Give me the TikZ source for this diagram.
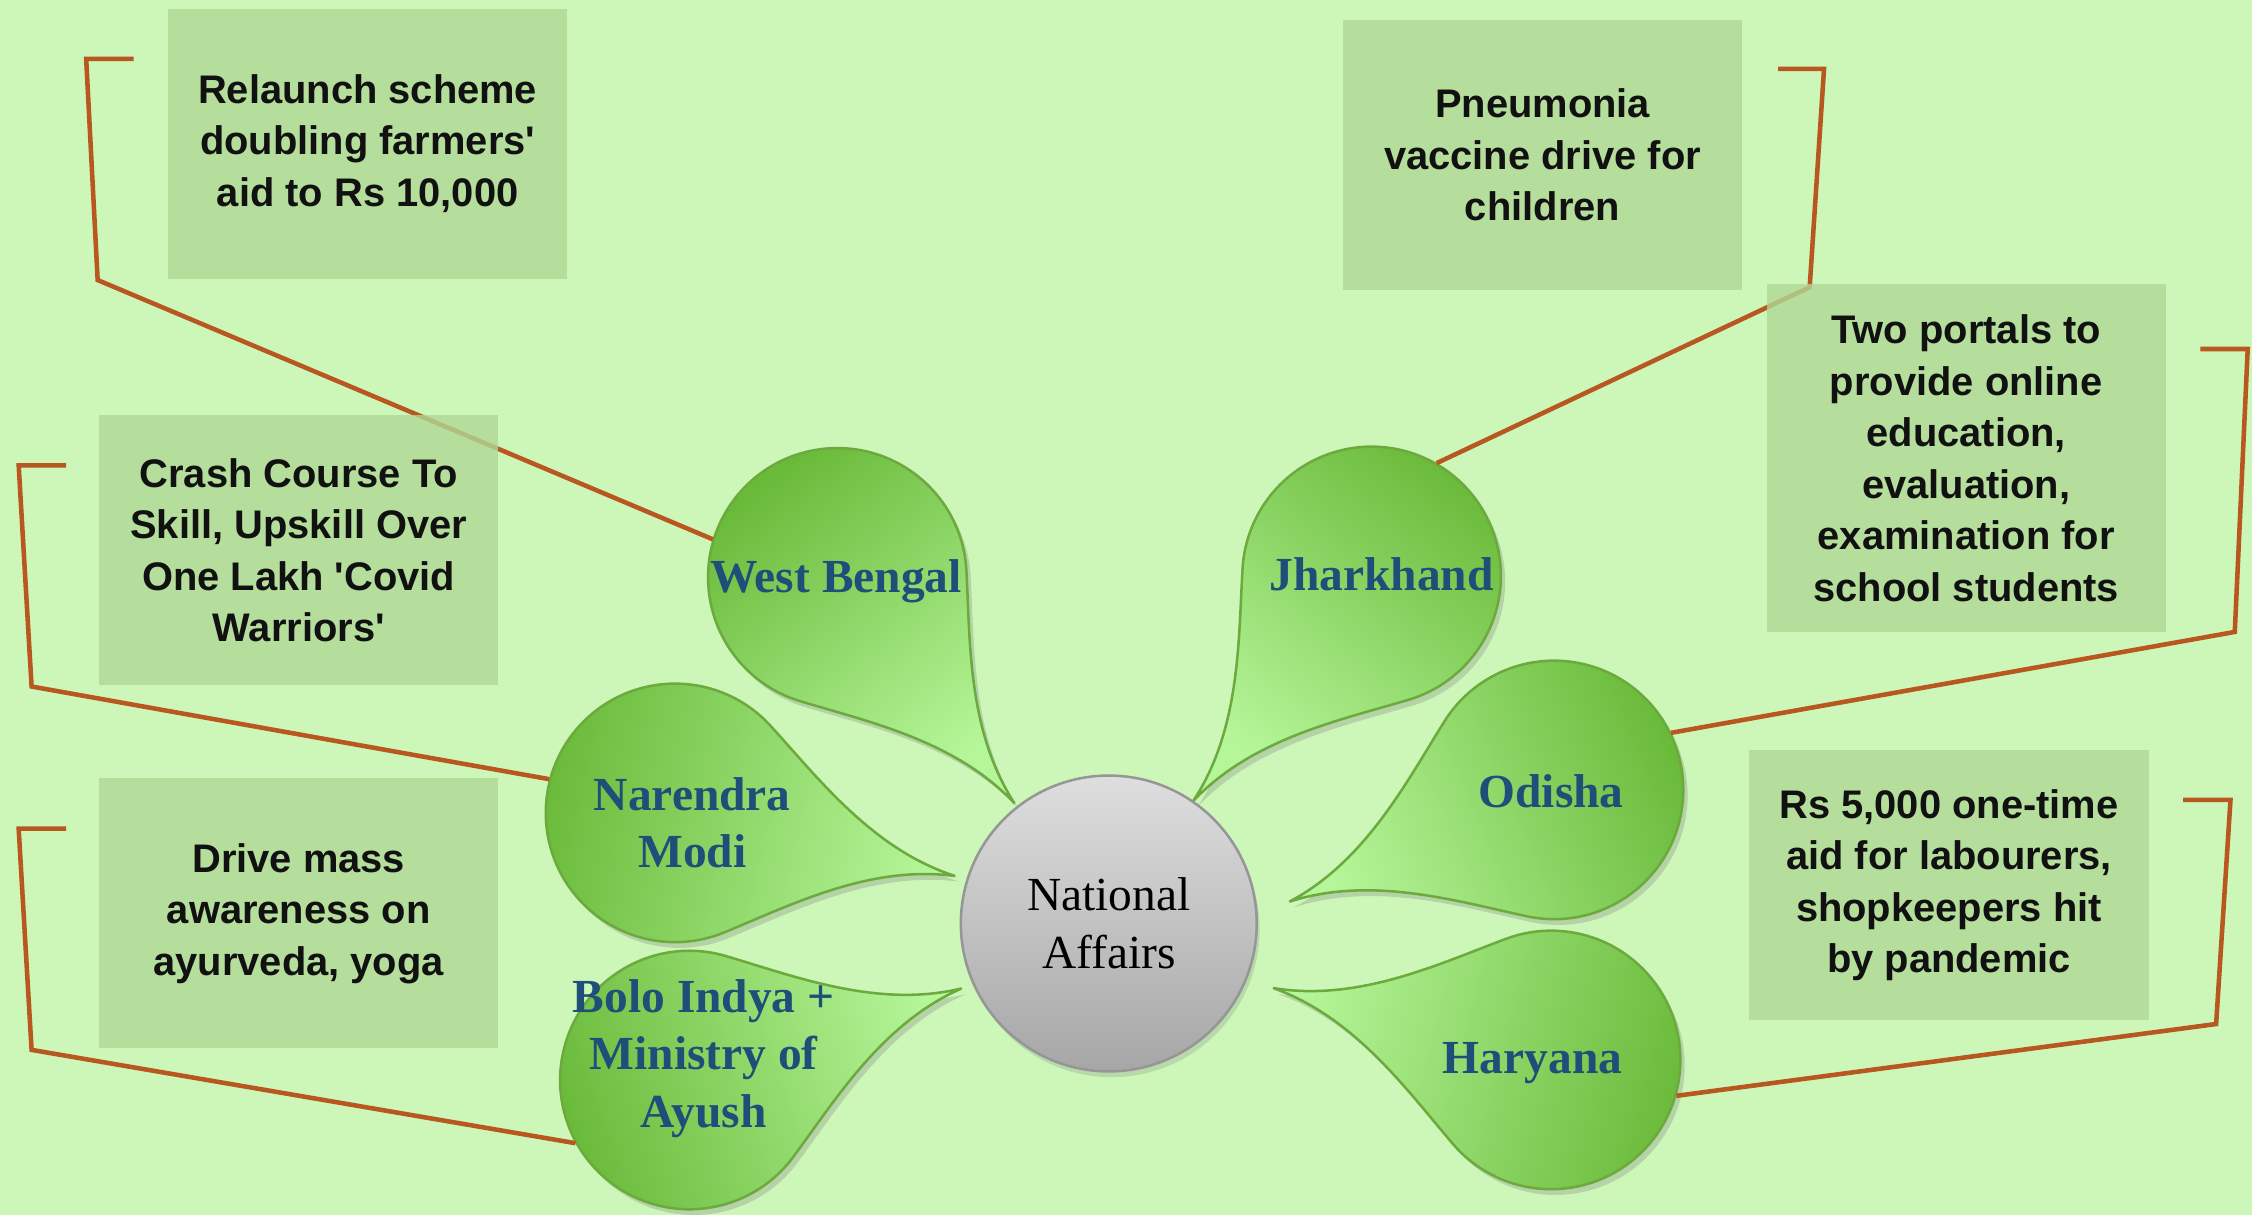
\documentclass[tikz,border=0pt]{standalone}
\usepackage{fontspec}
\setmainfont{Liberation Serif}
\newfontfamily\notefont{Liberation Sans}
\usetikzlibrary{calc,shadows}

\definecolor{bggreen}{RGB}{204,247,184}
\definecolor{notefill}{RGB}{176,216,150}
\definecolor{notetext}{RGB}{17,17,17}
\definecolor{petaldark}{RGB}{106,186,58}
\definecolor{petallight}{RGB}{182,246,154}
\definecolor{petalline}{RGB}{108,170,62}
\definecolor{petaltext}{RGB}{31,78,121}
\definecolor{hubtop}{RGB}{222,222,222}
\definecolor{hubbottom}{RGB}{166,166,166}
\definecolor{hubline}{RGB}{150,150,150}
\definecolor{linkbrown}{RGB}{184,88,32}

% teardrop: #1 = bulb node, #2 = direction of the tip
\newcommand{\petal}[2]{%
  \pgfmathsetmacro{\shadeangle}{#2+90}%
  \path[petal, shading angle=\shadeangle]
    ($(#1.center)+({#2+55}:0.9)$) arc[start angle={#2+55}, end angle={#2+305}, radius=0.9]
    .. controls +({#2+35}:0.5) and +({#2+185}:0.6) .. ($(#1.center)+(#2:2)$)
    .. controls +({#2+175}:0.6) and +({#2-35}:0.5) .. ($(#1.center)+({#2+55}:0.9)$) -- cycle;}

\begin{document}
\begin{tikzpicture}[
    bulb/.style={circle, minimum size=1.8cm, inner sep=0pt},
    petal/.style={draw=petalline, line width=0.5pt, left color=petaldark, right color=petallight,
      drop shadow={opacity=0.3, shadow xshift=0.03cm, shadow yshift=-0.04cm}},
    petalname/.style={align=center, text=petaltext, font=\bfseries\fontsize{9.4}{11.4}\selectfont},
    hub/.style={circle, draw=hubline, line width=0.5pt, top color=hubtop, bottom color=hubbottom,
      minimum size=2.06cm, inner sep=0pt, align=center, font=\fontsize{9.4}{11.4}\selectfont,
      drop shadow={opacity=0.25, shadow xshift=0.02cm, shadow yshift=-0.04cm}},
    note/.style={fill=notefill, fill opacity=0.8, text opacity=1, minimum width=2.78cm,
      minimum height=1.88cm, inner sep=0pt, align=center, text=notetext,
      font=\notefont\bfseries\fontsize{7.9}{10.2}\selectfont},
    link/.style={draw=linkbrown, line width=0.9pt}]

	% Background
	\fill[bggreen] (0,0) rectangle (15.68,8.46);
	\useasboundingbox (0,0) rectangle (15.68,8.46);

	% Bulbs of the teardrops
	\node[bulb] (wb) at (5.83,4.44) {};
	\node[bulb] (jh) at (9.55,4.45) {};
	\node[bulb] (nm) at (4.70,2.80) {};
	\node[bulb] (bo) at (4.80,0.94) {};
	\node[bulb] (od) at (10.82,2.96) {};
	\node[bulb] (ha) at (10.80,1.08) {};

	% Draw the teardrops pointing at the centre
	\petal{wb}{-51.9}
	\petal{jh}{231.6}
	\petal{nm}{-12.7}
	\petal{bo}{18.6}
	\petal{od}{202.9}
	\petal{ha}{165.5}

	% Centre circle
	\node[hub] (na) at (7.72,2.03) {National\\Affairs};

	% Bracket points of the callouts
	\coordinate (wbk) at (0.68,6.51); \coordinate (wbt) at (0.60,8.05); \coordinate (wbe) at (0.93,8.05);
	\coordinate (jhk) at (12.60,6.46); \coordinate (jht) at (12.70,7.98); \coordinate (jhe) at (12.38,7.98);
	\coordinate (nmk) at (0.22,3.68); \coordinate (nmt) at (0.13,5.22); \coordinate (nme) at (0.46,5.22);
	\coordinate (bok) at (0.22,1.15); \coordinate (bot) at (0.13,2.69); \coordinate (boe) at (0.46,2.69);
	\coordinate (odk) at (15.56,4.06); \coordinate (odt) at (15.65,6.03); \coordinate (ode) at (15.32,6.03);
	\coordinate (hak) at (15.43,1.33); \coordinate (hat) at (15.53,2.89); \coordinate (hae) at (15.20,2.89);

	% Draw the callout lines
	\draw[link] (wb.163) -- (wbk) -- (wbt) -- (wbe);
	\draw[link] (jh.60) -- (jhk) -- (jht) -- (jhe);
	\draw[link] (nm.165) -- (nmk) -- (nmt) -- (nme);
	\draw[link] (bo.209) -- (bok) -- (bot) -- (boe);
	\draw[link] (od.26) -- (odk) -- (odt) -- (ode);
	\draw[link] (ha.344) -- (hak) -- (hat) -- (hae);

	% Notes
	\node[note] (relaunch) at (2.56,7.46) {Relaunch scheme\\doubling farmers\textquotesingle\\aid to Rs 10,000};
	\node[note] (vaccine) at (10.74,7.38) {Pneumonia\\vaccine drive for\\children};
	\node[note] (crash) at (2.08,4.63) {Crash Course To\\Skill, Upskill Over\\One Lakh \textquotesingle Covid\\Warriors\textquotesingle};
	\node[note, minimum height=2.42cm] (portals) at (13.69,5.27) {Two portals to\\provide online\\education,\\evaluation,\\examination for\\school students};
	\node[note] (ayurveda) at (2.08,2.10) {Drive mass\\awareness on\\ayurveda, yoga};
	\node[note] (aid) at (13.57,2.295) {Rs 5,000 one-time\\aid for labourers,\\shopkeepers hit\\by pandemic};

	% Names on the teardrops
	\node[petalname] (wbname) at (5.82,4.41) {West Bengal};
	\node[petalname] (jhname) at (9.62,4.46) {Jharkhand};
	\node[petalname] (nmname) at (4.82,2.73) {Narendra\\Modi};
	\node[petalname] (boname) at (4.90,1.09) {Bolo Indya +\\Ministry of\\Ayush};
	\node[petalname] (odname) at (10.80,2.95) {Odisha};
	\node[petalname] (haname) at (10.67,1.06) {Haryana};

\end{tikzpicture}
\end{document}
